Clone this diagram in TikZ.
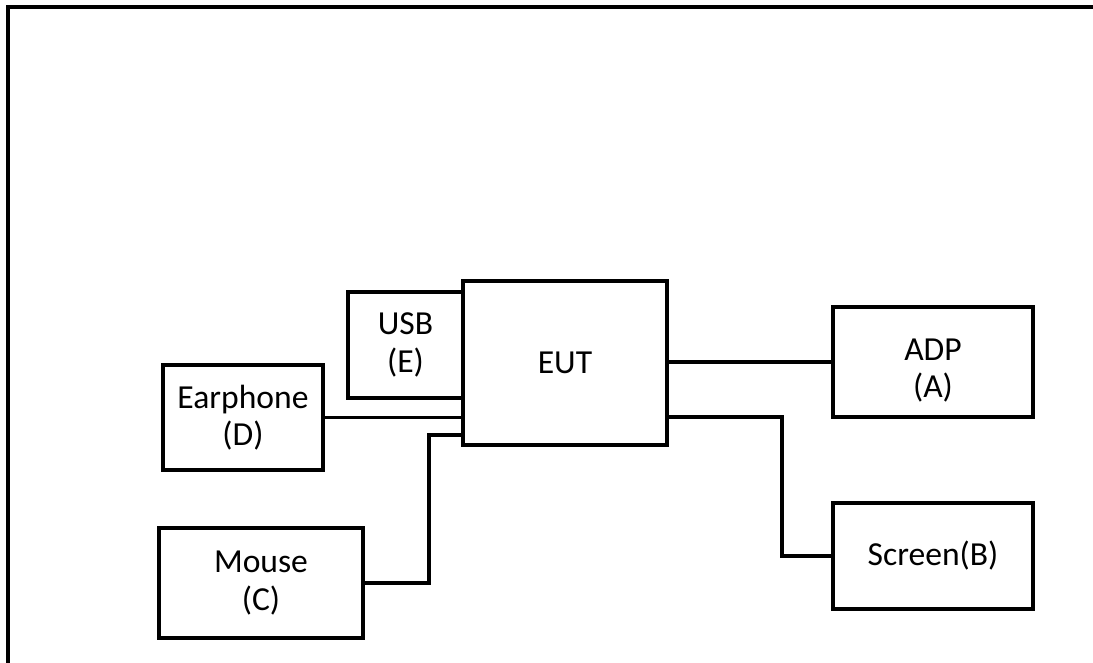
\documentclass[tikz,border=0pt]{standalone}
\usepackage{fontspec}
\setmainfont{Carlito}
\usetikzlibrary{arrows.meta}

\begin{document}
\begin{tikzpicture}[x=0.5pt, y=-0.5pt, every node/.style={font=\fontsize{16.8}{18.6}\selectfont}, box/.style={draw, line width=1.8pt, align=center, inner sep=0pt}, wire/.style={line width=1.8pt}]
	\useasboundingbox (0,0) rectangle (1093,663);
	\draw[line width=1.9pt] (8,663) -- (8,7) -- (1093,7);
	\node[box, minimum width=102pt, minimum height=82pt] (EUT) at (565,363) {EUT};
	\node[box, minimum width=57.5pt, minimum height=53pt] (USB) at (405.5,345) {USB\\(E)};
	\node[box, minimum width=80pt, minimum height=52.5pt] (Earph) at (243,417.5) {Earphone\\(D)};
	\node[box, minimum width=102pt, minimum height=55pt] (Mouse) at (261,583) {Mouse\\(C)};
	\node[box, minimum width=100pt, minimum height=55pt] (ADP) at (933,362) {\rule{0pt}{19pt}ADP\\(A)};
	\node[box, minimum width=100pt, minimum height=53pt] (Screen) at (933,556) {Screen(B)};
	\coordinate (mc) at (429,435);
	\coordinate (sc) at (782,417);
	\draw[wire] (EUT.east |- ADP.west) -- (ADP.west);
	\draw[wire] (Earph.east) -- (Earph.east -| EUT.west);
	\draw[wire] (Mouse.east) -| (mc) -- (mc -| EUT.west);
	\draw[wire] (sc -| EUT.east) -- (sc) |- (Screen.west);
\end{tikzpicture}
\end{document}
